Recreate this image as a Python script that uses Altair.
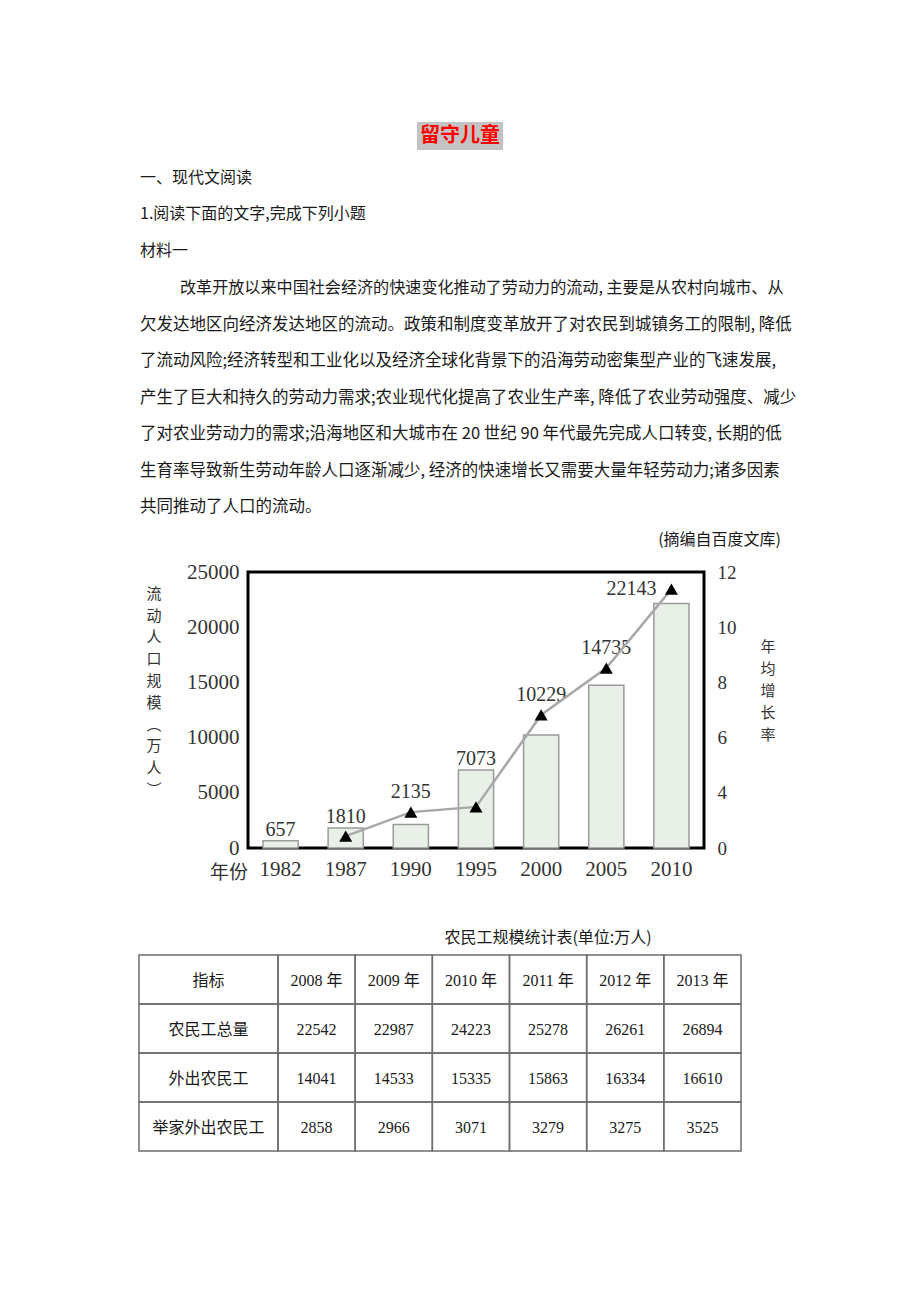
import altair as alt
import pandas as pd

# ---------------- data ----------------
years = ["1982", "1987", "1990", "1995", "2000", "2005", "2010"]
population = [657, 1810, 2135, 7073, 10229, 14735, 22143]          # 流动人口规模(万人)
growth_years = ["1987", "1990", "1995", "2000", "2005", "2010"]
growth_rate = [2.43, 3.30, 3.49, 6.82, 8.52, 11.38]                  # 年均增长率

pop_ticks = [0, 5000, 10000, 15000, 20000, 25000]
rate_ticks = [2, 4, 6, 8, 10, 12]

table_header = ["指标", "2008 年", "2009 年", "2010 年", "2011 年", "2012 年", "2013 年"]
row_names = ["农民工总量", "外出农民工", "举家外出农民工"]
total_workers = [22542, 22987, 24223, 25278, 26261, 26894]
outgoing_workers = [14041, 14533, 15335, 15863, 16334, 16610]
family_workers = [2858, 2966, 3071, 3279, 3275, 3525]

title_text = "留守儿童"
section_text = "一、现代文阅读"
question_text = "1.阅读下面的文字,完成下列小题"
material_text = "材料一"
paragraph_lines = [
    "改革开放以来中国社会经济的快速变化推动了劳动力的流动, 主要是从农村向城市、从",
    "欠发达地区向经济发达地区的流动。政策和制度变革放开了对农民到城镇务工的限制, 降低",
    "了流动风险;经济转型和工业化以及经济全球化背景下的沿海劳动密集型产业的飞速发展,",
    "产生了巨大和持久的劳动力需求;农业现代化提高了农业生产率, 降低了农业劳动强度、减少",
    "了对农业劳动力的需求;沿海地区和大城市在 20 世纪 90 年代最先完成人口转变, 长期的低",
    "生育率导致新生劳动年龄人口逐渐减少, 经济的快速增长又需要大量年轻劳动力;诸多因素",
    "共同推动了人口的流动。",
]
source_text = "(摘编自百度文库)"
y_title_chars = ["流", "动", "人", "口", "规", "模", "︵", "万", "人", "︶"]
y2_title_chars = ["年", "均", "增", "长", "率"]
x_title_text = "年份"
table_title = "农民工规模统计表(单位:万人)"

# ---------------- layout ----------------
CJK = "Noto Sans CJK SC"
SERIF = "Liberation Serif, Noto Sans CJK SC"
OX, OY = 248, 572          # page position of the plot frame's top-left corner
PW, PH = 456, 276          # plot frame size
PAGE_MARGIN = 8
POP_DOMAIN = [0, 25000]
RATE_DOMAIN = [2, 12]


def rx(x):
    return x - OX


def ry(y):
    return y - OY


def tdf(rows):
    return pd.DataFrame([{"text": t, "px": rx(x), "py": ry(y)} for t, x, y in rows])


def text_layer(df, align="left", font=CJK, size=16, color="#1a1a1a", weight="normal"):
    return alt.Chart(df).mark_text(
        align=align, baseline="middle", font=font, fontSize=size, color=color, fontWeight=weight
    ).encode(
        x=alt.X("px:Q", scale=None, axis=None),
        y=alt.Y("py:Q", scale=None, axis=None),
        text="text:N",
    )


def vertical_title(chars, x, first_center, size, step):
    # one multi-line text block, one character per line
    return alt.Chart(pd.DataFrame({"a": [0]})).mark_text(
        align="center", baseline="top", font=CJK, fontSize=size, lineHeight=step, color="#333"
    ).encode(
        x=alt.value(rx(x)),
        y=alt.value(ry(first_center - 0.41 * size)),
        text=alt.value(chars),
    )


# ---------------- chart layers ----------------
bar_df = pd.DataFrame({"year": years, "pop": population})
rate_df = pd.DataFrame({"year": growth_years, "rate": growth_rate})

k = (POP_DOMAIN[1] - POP_DOMAIN[0]) / (RATE_DOMAIN[1] - RATE_DOMAIN[0])
lab = bar_df.merge(rate_df, on="year", how="left")
lab["tri"] = (lab["rate"] - RATE_DOMAIN[0]) * k
lab["anchor"] = [
    (p + 1000) if (pd.isna(t) or p >= t) else (t + 1800) for p, t in zip(lab["pop"], lab["tri"])
]
lab["text"] = lab["pop"].astype(str)
side = lab["year"] == years[-1]
lab.loc[side, "anchor"] = lab.loc[side, "tri"]
main_lab = lab[~side]
side_lab = lab[side]

x_enc = alt.X(
    "year:N",
    sort=years,
    scale=alt.Scale(paddingInner=0.46, paddingOuter=0.23),
    axis=alt.Axis(
        title=None, labelAngle=0, labelFont=SERIF, labelFontSize=21, labelColor="#333",
        labelPadding=10, ticks=False, tickSize=0, domain=False, grid=False,
    ),
)

bars = alt.Chart(bar_df).mark_bar(fill="#e8f0e8", stroke="#9a9a9a", strokeWidth=1.5).encode(
    x=x_enc,
    y=alt.Y(
        "pop:Q",
        scale=alt.Scale(domain=POP_DOMAIN, nice=False, zero=True),
        axis=alt.Axis(
            orient="left", values=pop_ticks, format="d", title=None, labelFont=SERIF,
            labelFontSize=21, labelColor="#333", labelPadding=9, ticks=False, tickSize=0,
            domain=False, grid=False,
        ),
    ),
)

label_y = alt.Y("anchor:Q", scale=alt.Scale(domain=POP_DOMAIN, nice=False, zero=True), axis=None)
bar_labels = alt.Chart(main_lab).mark_text(
    font=SERIF, fontSize=20, color="#333", baseline="middle", align="center"
).encode(x=x_enc, y=label_y, text="text:N")
side_label = alt.Chart(side_lab).mark_text(
    font=SERIF, fontSize=20, color="#333", baseline="middle", align="center", dx=-40
).encode(x=x_enc, y=label_y, text="text:N")

rate_scale = alt.Scale(domain=RATE_DOMAIN, nice=False, zero=False)
line = alt.Chart(rate_df).mark_line(color="#a8a8a8", strokeWidth=2.5).encode(
    x=x_enc,
    y=alt.Y(
        "rate:Q",
        scale=rate_scale,
        axis=alt.Axis(
            orient="right", values=rate_ticks, title=None, labelFont=SERIF, labelFontSize=19,
            labelColor="#333", labelPadding=13, ticks=False, tickSize=0, domain=False, grid=False,
            labelExpr="datum.value == 2 ? '0' : datum.label",
        ),
    ),
)
points = alt.Chart(rate_df).mark_point(
    shape="triangle-up", filled=True, color="black", size=170, opacity=1
).encode(x=x_enc, y=alt.Y("rate:Q", scale=rate_scale, axis=None))

# ---------------- page text layers ----------------
title_box = alt.Chart(pd.DataFrame({"a": [0]})).mark_rect(color="#c3c3c3").encode(
    x=alt.value(rx(417)), x2=alt.value(rx(503)), y=alt.value(ry(122)), y2=alt.value(ry(150))
)
title = text_layer(tdf([(title_text, 460, 136)]), align="center", size=20, color="#ff0000", weight="bold")

body_rows = [(section_text, 140, 178), (question_text, 140, 214), (material_text, 140, 251)]
body = text_layer(tdf(body_rows), size=16)

para_first = text_layer(tdf([(paragraph_lines[0], 180, 288)]), size=16.1)
para_rest = text_layer(
    tdf([(t, 140, 324.5 + 36.5 * i) for i, t in enumerate(paragraph_lines[1:])]), size=16.5
)
source = text_layer(tdf([(source_text, 781, 540)]), align="right", size=16)

y_title = vertical_title(y_title_chars, 154, 593, 15, 21.8)
y2_title = vertical_title(y2_title_chars, 768, 646, 15, 22)
x_title = text_layer(tdf([(x_title_text, 229, 873)]), align="center", size=19, color="#333")

# ---------------- table ----------------
T_LEFT, T_FIRST_RIGHT, T_RIGHT = 139, 278, 741
T_TOP, ROW_H = 955, 49
CELL_W = (T_RIGHT - T_FIRST_RIGHT) / 6
col_edges = [T_LEFT, T_FIRST_RIGHT] + [T_FIRST_RIGHT + CELL_W * (j + 1) for j in range(6)]

table_rows = [table_header] + [
    [name] + [str(v) for v in vals]
    for name, vals in zip(row_names, [total_workers, outgoing_workers, family_workers])
]
cell_rects, cell_texts = [], []
for i, row in enumerate(table_rows):
    y0 = T_TOP + ROW_H * i
    for j, txt in enumerate(row):
        x0, x1 = col_edges[j], col_edges[j + 1]
        cell_rects.append({"px": rx(x0), "px2": rx(x1), "py": ry(y0), "py2": ry(y0 + ROW_H)})
        cell_texts.append((txt, (x0 + x1) / 2, y0 + ROW_H / 2 + 1))

table_grid = alt.Chart(pd.DataFrame(cell_rects)).mark_rect(
    fillOpacity=0, stroke="#6e6e6e", strokeWidth=1.5
).encode(
    x=alt.X("px:Q", scale=None, axis=None), x2="px2:Q",
    y=alt.Y("py:Q", scale=None, axis=None), y2="py2:Q",
)
table_text = text_layer(tdf(cell_texts), align="center", font=SERIF, size=16, color="#1a1a1a")
table_caption = text_layer(tdf([(table_title, 548, 938)]), align="center", size=16)

# ---------------- assemble ----------------
chart = alt.layer(
    bars, bar_labels, side_label, line, points,
    title_box, title, body, para_first, para_rest, source,
    y_title, y2_title, x_title,
    table_grid, table_text, table_caption,
).resolve_scale(
    y="independent"
).properties(
    width=PW,
    height=PH,
    autosize=alt.AutoSizeParams(type="none"),
    padding={"left": OX - PAGE_MARGIN, "top": OY - PAGE_MARGIN, "right": 180, "bottom": 320},
    background="white",
).configure_view(
    stroke="black", strokeWidth=3
)

chart.save("out.html", embed_options={"renderer": "svg", "actions": False})
